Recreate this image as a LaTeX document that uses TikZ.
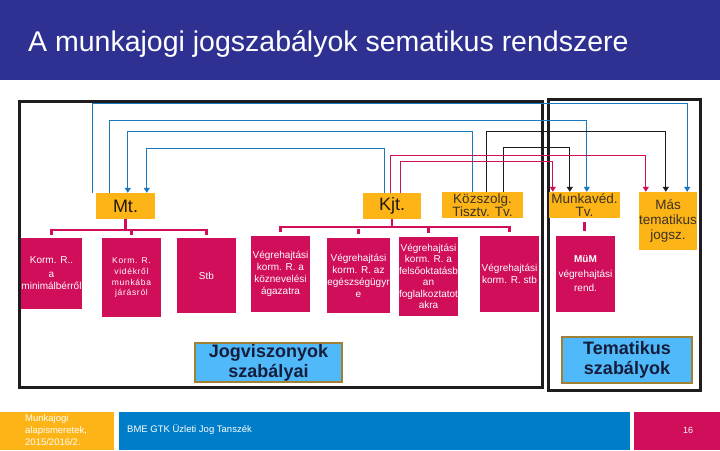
\documentclass[tikz,border=0pt]{standalone}
\usepackage{fontspec}
\setmainfont{Liberation Sans}
\newfontfamily\spacedfont{Liberation Sans}[LetterSpace=8]
\usetikzlibrary{arrows.meta}
\definecolor{titlebg}{RGB}{46,49,146}
\definecolor{gold}{RGB}{252,180,22}
\definecolor{crimson}{RGB}{208,14,90}
\definecolor{footblue}{RGB}{0,125,200}
\definecolor{lblue}{RGB}{80,185,250}
\definecolor{lborder}{RGB}{160,128,50}
\definecolor{navy}{RGB}{20,30,60}
\definecolor{arrblue}{RGB}{25,120,190}
\definecolor{frameblack}{RGB}{30,28,30}
\definecolor{darktxt}{RGB}{60,50,40}
\tikzset{
  obox/.style={fill=gold, inner sep=0pt, align=center, text=darktxt},
  mbox/.style={fill=crimson, inner sep=0pt, align=center, text=white, minimum width=59pt,
    font=\fontsize{10}{12}\selectfont},
  lbox/.style={fill=lblue, draw=lborder, line width=2pt, inner sep=0pt, align=center, text=navy,
    font=\bfseries\fontsize{18}{20}\selectfont},
  frame/.style={draw=frameblack, line width=3pt},
  bconn/.style={draw=arrblue, line width=1.1pt, -{Triangle[width=6pt,length=5pt]}},
  kconn/.style={draw=frameblack, line width=1.3pt, -{Triangle[width=6pt,length=5pt]}},
  mconn/.style={draw=crimson, line width=1.3pt, -{Triangle[width=6pt,length=5pt]}},
  mline/.style={draw=crimson, line width=2.5pt},
  foot/.style={inner sep=0pt, text=white, align=left, anchor=west,
    font=\fontsize{9.5}{12}\selectfont}
}
\begin{document}
\begin{tikzpicture}[x=1pt,y=-1pt]
\useasboundingbox (0,0) rectangle (720,450);
\fill[white] (0,0) rectangle (720,450);
% title bar
\fill[titlebg] (0,0) rectangle (720,80);
\node[anchor=base west, inner sep=0pt, text=white, font=\fontsize{28.5}{30}\selectfont] (title) at (28,51) {A munkajogi jogszabályok sematikus rendszere};

% frames
\draw[frame] (19,101) rectangle (542,387);
\draw[frame] (548,99) rectangle (700,390);

% orange boxes
\node[obox, minimum width=59pt, minimum height=26pt, text={rgb,255:red,35;green,25;blue,15}, font=\fontsize{18}{18}\selectfont] (mt) at (125.5,206) {Mt.};
\node[obox, minimum width=58pt, minimum height=26pt, text={rgb,255:red,35;green,25;blue,15}, font=\fontsize{18}{18}\selectfont] (kjt) at (392,206) {Kjt.};
\node[obox, minimum width=81pt, minimum height=26pt, font=\fontsize{13.5}{13}\selectfont] (ksz) at (482.5,205) {Közszolg.\\Tisztv. Tv.};
\node[obox, minimum width=71pt, minimum height=26pt, font=\fontsize{13.5}{13}\selectfont] (mkv) at (584.5,205) {Munkavéd.\\Tv.};
\node[obox, minimum width=58pt, minimum height=58pt, font=\fontsize{13.5}{15}\selectfont] (mas) at (668,221) {Más\\tematikus\\jogsz.};

% connectors
\draw[bconn] ([xshift=-3pt]mt.north west) -- ++(0,-89) -| ([xshift=-10pt]mas.north east);
\draw[bconn] ([xshift=14pt]mt.north west) -- ++(0,-72) -| ([xshift=38pt]mkv.north west);
\draw[bconn] ([xshift=31pt]ksz.north west) -- ++(0,-60) -| ([xshift=32pt]mt.north west);
\draw[bconn] ([xshift=22pt]kjt.north west) -- ++(0,-44) -| ([xshift=51pt]mt.north west);
\draw[kconn] ([xshift=45pt]ksz.north west) -- ++(0,-60) -| ([xshift=27pt]mas.north west);
\draw[kconn] ([xshift=62pt]ksz.north west) -- ++(0,-44) -| ([xshift=21pt]mkv.north west);
\draw[mconn] ([xshift=28pt]kjt.north west) -- ++(0,-37) -| ([xshift=7pt]mas.north west);
\draw[mconn] ([xshift=38pt]kjt.north west) -- ++(0,-31) -| ([xshift=4pt]mkv.north west);

% crimson boxes
\node[mbox, minimum height=71pt] (b1) at (51.5,273.5) {Korm. R..\\[2pt]a\\minimálbérről};
\node[mbox, minimum height=79pt, font=\spacedfont\fontsize{8.5}{10.5}\selectfont] (b2) at (131.5,277.5) {Korm. R.\\[1pt]vidékről\\munkába\\járásról};
\node[mbox, minimum height=75pt] (b3) at (206.5,275.5) {Stb};
\node[mbox, minimum height=76pt] (b4) at (280.5,274) {Végrehajtási\\korm. R. a\\köznevelési\\ágazatra};
\node[mbox, minimum height=75pt] (b5) at (358.5,275.5) {Végrehajtási\\korm. R. az\\egészségügyr\\e};
\node[mbox, minimum height=79pt, font=\fontsize{10}{11.5}\selectfont] (b6) at (428.5,276.5) {Végrehajtási\\korm. R. a\\felsőoktatásb\\an\\foglalkoztatot\\akra};
\node[mbox, minimum height=76pt] (b7) at (509.5,274) {Végrehajtási\\korm. R. stb};
\node[mbox, minimum height=76pt, font=\fontsize{10}{14.5}\selectfont] (b8) at (585.5,274) {\textbf{MüM}\\végrehajtási\\rend.};

% brackets
\draw[mline] (mt.south) -- ++(0,11);
\draw[mline] ([yshift=3pt]b1.north) -- ++(0,-5) -| ([yshift=3pt]b3.north);
\draw[mline] ([yshift=3pt]b2.north) -- ++(0,-5);
\draw[mline] (kjt.south) -- ++(0,9);
\draw[mline] ([yshift=4pt]b4.north) -- ++(0,-5) -| ([yshift=4pt]b7.north);
\draw[mline] ([yshift=4pt]b5.north) -- ++(0,-5);
\draw[mline] ([yshift=4pt]b6.north) -- ++(0,-5);
\draw[mline] ([yshift=-4pt]mkv.south) -- ([yshift=-13pt]mkv.south);

% label boxes
\node[lbox, minimum width=147pt, minimum height=39pt] (jog) at (268.5,362.5) {Jogviszonyok\\szabályai};
\node[lbox, minimum width=130pt, minimum height=46pt] (tem) at (627,360) {Tematikus\\szabályok};

% footer
\fill[gold] (0,412) rectangle (114,450);
\fill[footblue] (119,412) rectangle (630,450);
\fill[crimson] (634,412) rectangle (720,450);
\node[foot] (f1) at (25,430.5) {Munkajogi\\alapismeretek,\\2015/2016/2.};
\node[foot] (f2) at (127,430) {BME GTK  Üzleti Jog Tanszék};
\node[foot, font=\fontsize{9}{11}\selectfont] (f3) at (683,430) {16};
\end{tikzpicture}
\end{document}
